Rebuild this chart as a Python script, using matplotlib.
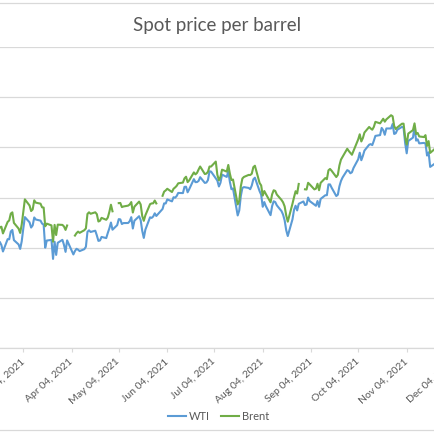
import numpy as np
import pandas as pd
import matplotlib
matplotlib.use("Agg")
import matplotlib.pyplot as plt
import matplotlib.dates as mdates
from matplotlib.lines import Line2D

plt.rcParams['font.family'] = ['Lato', 'DejaVu Sans']

# business days Feb 16 - Nov 30, 2021
dates = pd.bdate_range("2021-02-16", "2021-11-30")

# WTI spot ($/bbl), None = no quote
wti = (
    [60.05, 61.14, 60.52, 59.24, 61.70, 61.67, 63.22, 63.53, 61.50]  # feb
    + [60.64, 59.75, 61.28, 63.83, 66.09, 65.05, 64.01, 64.44, 66.02, 65.61, 65.39, 64.80,
       64.60, 60.00, 61.42, 61.55, 57.76, 61.18, 58.56, 60.97, 61.56, 60.55, 59.16]  # mar
    + [61.45, None, 58.65, 59.33, 59.77, 59.60, 59.32, 59.70, 60.18, 63.15, 63.46, 63.13,
       63.38, 62.44, 61.35, 61.43, 62.14, 61.91, 62.94, 63.86, 65.01, 63.58]  # apr
    + [64.49, 65.69, 65.63, 64.71, 64.90, 64.92, 65.28, 66.08, 63.82, 65.37, 66.27, 65.49,
       63.36, 61.94, 63.58, 66.05, 65.93, 66.21, 66.85, 66.32, None]  # may
    + [67.72, 68.83, 68.81, 69.62, 69.23, 70.05, 69.96, 70.29, 70.91, 70.88, 72.12, 72.15,
       71.04, 71.64, 73.66, 73.06, 73.08, 73.30, 74.05, 72.91, 72.98, 73.47]  # jun
    + [75.23, 75.16, None, 73.37, 72.20, 72.94, 74.56, 74.10, 75.25, 73.13, 71.65, 71.81,
       66.42, 67.42, 70.30, 71.91, 72.07, 71.91, 71.65, 72.39, 73.62, 73.95]  # jul
    + [71.26, 70.56, 68.15, 69.09, 68.28, 66.48, 68.29, 69.25, 69.09, 68.44, 67.29, 66.59,
       65.46, 63.50, 62.32, 65.64, 67.54, 68.36, 67.42, 68.74, 69.21, 68.50]  # aug
    + [68.59, 69.99, 69.29, None, 68.35, 69.30, 68.14, 69.72, 70.45, 70.46, 72.61, 72.61,
       71.97, 70.29, 70.56, 72.23, 73.30, 73.98, 75.45, 75.29, 74.83, 75.03]  # sep
    + [75.88, 77.62, 78.93, 77.43, 78.30, 79.35, 80.52, 80.64, 80.44, 81.31, 82.28, 82.44,
       83.87, 83.42, 82.50, 83.76, 83.76, 84.65, 82.66, 82.81, 83.50]  # oct
    + [84.08, 83.91, 80.86, 78.81, 81.27, 81.93, 84.15, 81.34, 81.59, 80.79, 80.88, 80.76,
       78.36, 79.01, 76.10, 76.75, 78.50, 78.39, None, 68.15, 69.95, 66.18]  # nov
)

# Brent spot ($/bbl), None = no quote (gaps in the line)
brent = (
    [63.30, 64.07, 64.18, 62.84, 65.14, 65.43, 66.79, 67.04, 64.94]
    + [63.80, 62.94, 64.64, 67.15, 69.63, 68.40, 67.30, 67.62, 69.44, 68.97, 68.77, 68.04,
       68.00, 64.26, 64.79, 64.44, 61.19, 64.54, 62.52, 64.59, 64.54, 64.22, 63.54]
    + [64.42, None, None, 62.41, 62.89, 63.20, 62.95, 63.48, 63.84, 66.72, 67.05, 66.76,
       67.05, 66.67, 65.21, 65.36, 65.94, 65.56, 66.00, 67.14, 68.56, 67.25]
    + [None, 68.88, 68.91, 68.09, 68.21, 68.38, 68.61, 69.09, 67.00, 68.17, 69.18, 68.61,
       66.31, 65.35, 66.45, 68.67, 68.82, 68.84, 69.40, 68.82, None]
    + [70.34, 71.17, 71.41, 71.74, 71.09, 71.74, 72.00, 72.32, 72.83, 72.97, 73.81, 74.14,
       73.06, 73.41, 75.00, 74.61, 74.90, 75.57, 76.18, 74.68, 74.76, 75.13]
    + [76.17, 76.17, 77.16, 74.53, 73.43, 74.12, 75.55, 75.16, 76.49, 74.76, 73.47, 73.59,
       68.62, 69.35, 72.23, 73.79, 74.10, 74.50, 74.48, 74.74, 76.05, 76.33]
    + [72.89, 72.41, 70.38, 71.29, 70.70, 69.04, 70.63, 71.44, 71.31, 70.59, 69.51, 69.03,
       68.23, 66.45, 65.18, 68.75, 70.05, 71.25, 70.79, 72.70, None, 71.63]
    + [71.59, 72.93, 72.62, 71.62, 71.76, 72.74, 71.45, 72.92, 73.87, 73.65, 75.42, 75.69,
       75.34, 74.08, 74.52, 76.39, 77.55, 78.09, 79.72, 79.26, 78.88, 78.52]
    + [79.29, 81.58, 82.60, 81.17, 81.85, 82.95, 84.06, 83.75, 83.51, 84.07, 85.08, 84.78,
       85.26, 85.70, 85.11, 85.57, 86.40, 86.19, 84.25, 83.65, 83.97]
    + [84.71, 84.72, 81.99, 80.54, 82.74, 83.43, 84.78, 82.65, 82.87, 82.17, 82.05, 82.43,
       80.28, 81.24, 78.89, 79.70, 82.31, 82.25, 80.51, 72.91, 73.44, 70.57]
)

tick_dates = pd.date_range("2021-02-04", "2021-12-04", freq="MS") + pd.Timedelta(days=3)

df = pd.DataFrame({"WTI": pd.to_numeric(pd.Series(wti), errors="coerce").values,
                   "Brent": pd.to_numeric(pd.Series(brent), errors="coerce").values},
                  index=dates)

grey = "#595959"
grid_col = "#D9D9D9"

W = 435
fig = plt.figure(figsize=(4.35, 4.35), dpi=100)

# chart is a crop: axes wider than the picture
ax_l, ax_r = -130.0, 565.0
ax = fig.add_axes([ax_l / W, 1 - 349 / W, (ax_r - ax_l) / W, (349 - 48) / W])

ref = mdates.date2num(pd.Timestamp("2021-03-04"))
px_day = (406.7 - 23.3) / 245.0
ax.set_xlim(ref + (ax_l - 23.3) / px_day, ref + (ax_r - 23.3) / px_day)
ax.set_ylim(40, 100)

w = df["WTI"].dropna()
ax.plot(w.index, w.values, color="#5B9BD5", lw=1.5, label="WTI")
ax.plot(df.index, df["Brent"].values, color="#70AD47", lw=1.5, label="Brent")

ax.set_yticks(np.arange(40, 101, 10))
ax.yaxis.grid(True, color=grid_col, lw=0.9)
ax.set_axisbelow(True)
ax.tick_params(axis="y", left=False, labelleft=False)
for s in ["top", "left", "right"]:
    ax.spines[s].set_visible(False)
ax.spines["bottom"].set_color(grid_col)
ax.spines["bottom"].set_linewidth(0.9)

ax.set_xticks(tick_dates)
ax.xaxis.set_major_formatter(mdates.DateFormatter("%b %d, %Y"))
ax.tick_params(axis="x", length=3, color=grid_col, pad=5, labelsize=7.5, labelcolor=grey)
for lab in ax.get_xticklabels():
    lab.set_rotation(42)
    lab.set_ha("right")
    lab.set_va("center")
    lab.set_rotation_mode("anchor")

fig.text(0.499, 1 - 25 / W, "Spot price per barrel", ha="center", va="center",
         fontsize=13.5, color=grey)

fig.legend(loc="center", bbox_to_anchor=(0.503, 1 - 417 / W), ncol=2, frameon=False,
           fontsize=8, labelcolor=grey, handlelength=1.6, handletextpad=0.3,
           columnspacing=1.0)

for yp in (4, 431):
    fig.add_artist(Line2D([0, 1], [1 - yp / W, 1 - yp / W], color=grid_col, lw=0.9,
                          transform=fig.transFigure))

fig.savefig("out.png", dpi=100)
